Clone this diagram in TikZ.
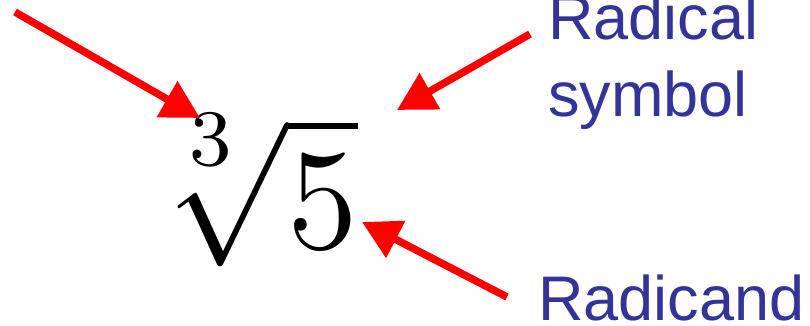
\documentclass[tikz,border=0pt]{standalone}
\usepackage{amsmath}
\usepackage{fontspec}
\newfontfamily\labelfont{Liberation Sans}
\usetikzlibrary{arrows.meta}
\definecolor{labelblue}{RGB}{51,51,153}
\definecolor{arrowred}{RGB}{255,0,0}
\tikzset{
  pointer/.style={draw=arrowred, line width=7.5pt, -{Triangle[length=38pt,width=40pt]}},
  lbl/.style={text=labelblue, font=\labelfont\fontsize{63}{77}\selectfont, inner sep=0pt, align=left},
}
\begin{document}
\begin{tikzpicture}[x=1pt,y=-1pt]
\useasboundingbox (0,0) rectangle (810,326);
\node[inner sep=0pt, anchor=base east, scale=10] (expr) at (360,248) {\fontsize{15.5}{18}\selectfont$\sqrt[\uproot{2}\leftroot{2}3]{5}$};
\node[lbl, anchor=base west] (radsym) at (548,117) {Radical\\symbol};
\node[lbl, anchor=base west] (radicand) at (538,320) {Radicand};
\coordinate (t1) at (15,12);
\coordinate (h1) at (200,118);
\coordinate (t2) at (530,34);
\coordinate (h2) at (397,110);
\coordinate (t3) at (507,297);
\coordinate (h3) at (362,222);
\draw[pointer] (t1) -- (h1);
\draw[pointer] (t2) -- (h2);
\draw[pointer] (t3) -- (h3);
\end{tikzpicture}
\end{document}
